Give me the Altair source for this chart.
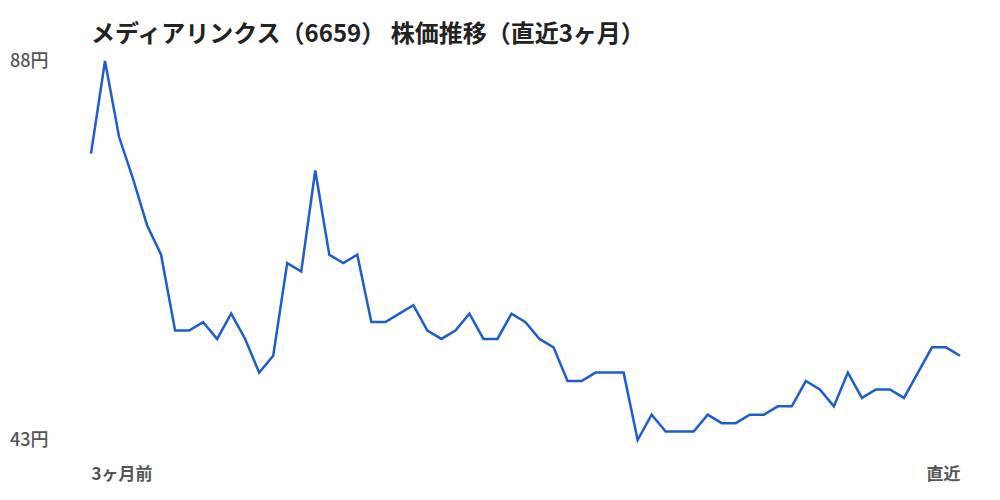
import altair as alt
import pandas as pd

prices = [77, 88, 79, 74, 68.5, 65, 56, 56, 57, 55, 58, 55, 51, 53, 64, 63,
          75, 65, 64, 65, 57, 57, 58, 59, 56, 55, 56, 58, 55, 55, 58, 57,
          55, 54, 50, 50, 51, 51, 51, 43, 46, 44, 44, 44, 46, 45, 45, 46,
          46, 47, 47, 50, 49, 47, 51, 48, 49, 49, 48, 51, 54, 54, 53]
day_index = list(range(len(prices)))
x_labels = ["3ヶ月前", "直近"]
title_text = "メディアリンクス（6659） 株価推移（直近3ヶ月）"

df = pd.DataFrame({"i": day_index, "price": prices})
lo, hi = min(prices), max(prices)
last = len(prices) - 1

FONT = "Noto Sans CJK JP"

chart = alt.Chart(df).mark_line(color="#1f5ccc", strokeWidth=2.5).encode(
    x=alt.X("i:Q", scale=alt.Scale(domain=[0, last], nice=False, zero=False),
            axis=alt.Axis(values=[0, last], title=None, grid=False, domain=False, ticks=False,
                          labelExpr=f"datum.value == 0 ? '{x_labels[0]}' : '{x_labels[1]}'",
                          labelAlign=alt.expr("datum.value == 0 ? 'left' : 'right'"),
                          labelBaseline="top", labelPadding=26, labelFontSize=17,
                          labelFont=FONT, labelFontWeight="bold", labelColor="#555555",
                          labelFlush=False, labelOverlap=False)),
    y=alt.Y("price:Q", scale=alt.Scale(domain=[lo, hi], nice=False, zero=False),
            axis=alt.Axis(values=[lo, hi], title=None, grid=False, domain=False, ticks=False,
                          labelExpr="datum.value + '円'", labelAlign="right",
                          labelBaseline="middle", labelPadding=43, labelFontSize=18,
                          labelFont=FONT, labelFontWeight=500, labelColor="#555555",
                          labelFlush=False, labelOverlap=False)),
).properties(
    width=869, height=379,
    title=alt.TitleParams(title_text, anchor="start", fontSize=24, font=FONT,
                          fontWeight="bold", color="#222222", offset=5, frame="group"),
    autosize=alt.AutoSizeParams(type="none"),
    padding={"left": 83, "top": 53, "right": 32, "bottom": 52},
    background="white",
).configure_view(stroke=None, strokeWidth=0)

chart.save("out.html", embed_options={"renderer": "svg", "actions": False})
